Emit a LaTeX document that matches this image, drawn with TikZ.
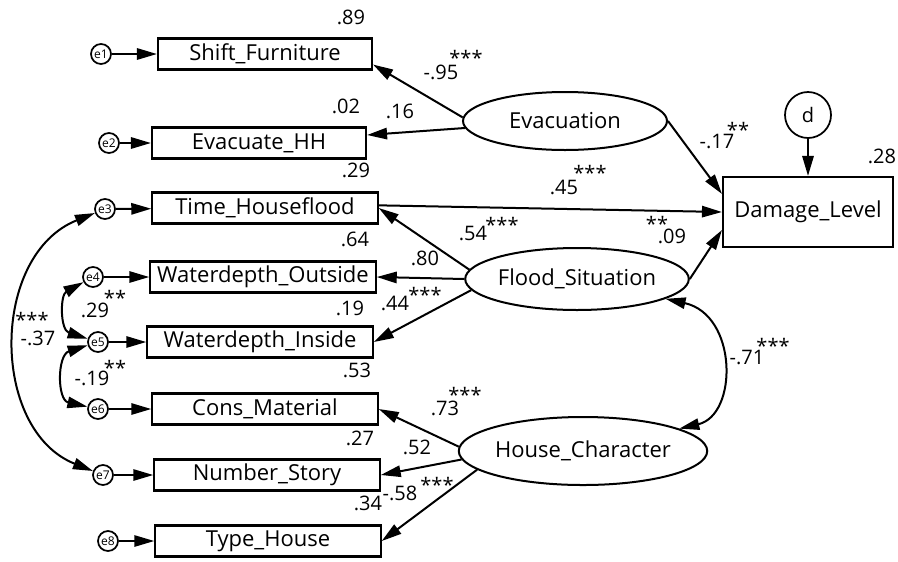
\documentclass[tikz,border=0pt]{standalone}
\usepackage{fontspec}
\setmainfont{Open Sans}
\usetikzlibrary{arrows.meta,shapes.geometric}
\begin{document}
\begin{tikzpicture}[x=0.75pt,y=-0.75pt,
    obs/.style={draw,rectangle,line width=1.6pt,minimum height=23.25pt,minimum width=169pt,
        inner sep=0pt,font=\fontsize{16.5}{18}\selectfont},
    lat/.style={draw,ellipse,line width=1.5pt,inner sep=0pt,font=\fontsize{16.5}{18}\selectfont},
    err/.style={draw,circle,line width=1.3pt,minimum size=15pt,inner sep=0pt,font=\fontsize{9}{10}\selectfont},
    reg/.style={line width=1.5pt,-{Triangle[length=15pt,width=8.5pt]}},
    cov/.style={line width=1.5pt,{Triangle[length=15pt,width=8.5pt]}-{Triangle[length=15pt,width=8.5pt]}},
    coef/.style={inner sep=0pt,font=\fontsize{15}{16}\selectfont},
    sig/.style={inner sep=0pt,yshift=-3.5pt,font=\fontsize{15}{16}\selectfont}]
    \useasboundingbox (0,0) rectangle (898,561);
    % observed variables
    \node[obs,minimum width=160.5pt] (sf) at (265,54) {Shift\_Furniture};
    \node[obs,minimum width=160.5pt] (ehh) at (259,143) {Evacuate\_HH};
    \node[obs] (thf) at (265,208) {Time\_Houseflood};
    \node[obs] (wo) at (263,277) {Waterdepth\_Outside};
    \node[obs] (wi) at (260,342) {Waterdepth\_Inside};
    \node[obs] (cm) at (265,409) {Cons\_Material};
    \node[obs] (ns) at (267,475) {Number\_Story};
    \node[obs] (tyh) at (268,541) {Type\_House};
    \node[obs,minimum width=127.5pt,minimum height=52.5pt] (dl) at (808,212) {Damage\_Level};
    % latent variables
    \node[lat,minimum width=153pt,minimum height=43.5pt] (evac) at (565,121) {Evacuation};
    \node[lat,minimum width=135pt,minimum height=46.5pt] (fs) at (577,279) {Flood\_Situation};
    \node[lat,minimum width=145pt,minimum height=51pt] (hc) at (583,451) {House\_Character};
    \node[draw,circle,line width=1.3pt,minimum size=34.5pt,inner sep=0pt,
        font=\fontsize{15}{16}\selectfont] (d) at (808,115) {d};
    % errors
    \foreach \n/\x/\y/\b in {1/101/54/sf,2/109/143/ehh,3/105/209/thf,4/93/277/wo,
            5/98/342/wi,6/98/409/cm,7/103/475/ns,8/108/541/tyh} {
        \node[err] (e\n) at (\x,\y) {e\n};
        \draw[reg] (e\n) -- (\b);
    }
    % paths
    \draw[reg] (evac.178) -- ([yshift=4.5pt]sf.south east);
    \draw[reg] (evac.184) -- ([yshift=6pt]ehh.east);
    \draw[reg] (evac.east) -- ([yshift=-13.5pt]dl.north west);
    \draw[reg] ([yshift=2pt]thf.east) -- (dl.west);
    \draw[reg] (fs.175) -- (thf.east);
    \draw[reg] (fs.west) -- (wo.east);
    \draw[reg] (fs.186) -- (wi.east);
    \draw[reg] (fs.east) -- ([yshift=-13.5pt]dl.west);
    \draw[reg] (hc.178) -- (cm.east);
    \draw[reg] (hc.184) -- (ns.east);
    \draw[reg] (hc.190) -- (tyh.east);
    \draw[reg] (d) -- (dl);
    % covariances
    \draw[cov] (e3) .. controls (-10,255) and (-10,430) .. (e7);
    \draw[cov] (e4) .. controls (60,295) and (60,330) .. (e5);
    \draw[cov] (e5) .. controls (57,355) and (57,400) .. (e6);
    \draw[cov] (fs) .. controls (738,315) and (738,415) .. (hc);
    % estimates
    \foreach \t/\x/\y [count=\i] in {.89/351/17,-.95/441/72,.02/346/106,.16/400/111,
            .29/356/170,-.17/717/141,.45/564/187,.28/882/156,.54/473/233,.09/672/236,
            .64/355/239,.80/425/258,.44/395/303,.19/350/308,.53/357/370,.73/445/408,
            .27/360/438,.52/417/447,-.58/400/493,.34/368/503,-.71/747/357,
            -.37/38/338,.29/95/310,-.19/92/378}
        \node[coef] (c\i) at (\x,\y) {\t};
    \foreach \t/\x/\y [count=\i] in {***/466/53,**/738/125,***/590/168,***/502/220,
            **/657/219,***/425/290,***/465/390,***/437/480,***/773/341,
            ***/32/315,**/115/293,**/115/363}
        \node[sig] (s\i) at (\x,\y) {\t};
\end{tikzpicture}
\end{document}
